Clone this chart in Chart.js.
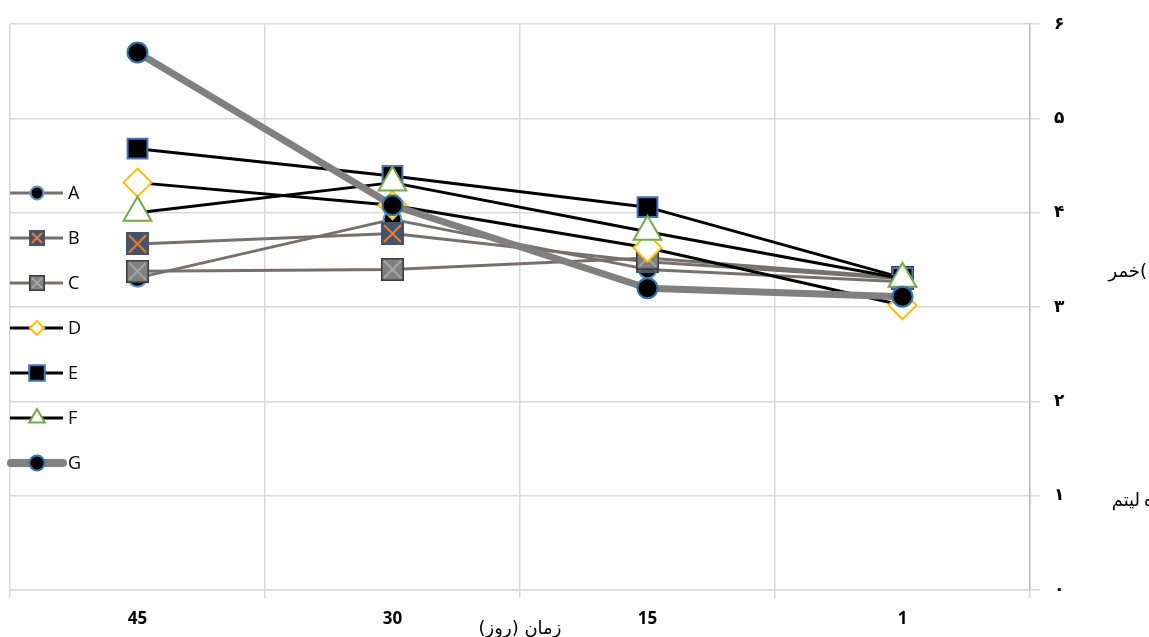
<!DOCTYPE html>
<html>
<head>
<meta charset="utf-8">
<script src="https://cdn.jsdelivr.net/npm/chart.js@4/dist/chart.umd.min.js"></script>
<style>html,body{margin:0;padding:0;background:#fff;}canvas{display:block;}</style>
</head>
<body>
<canvas id="c" width="1149" height="637"></canvas>
<script>
const categories = ['45', '30', '15', '1'];
const yTickLabels = ['۰', '۱', '۲', '۳', '۴', '۵', '۶'];
const seriesNames = ['A', 'B', 'C', 'D', 'E', 'F', 'G'];
const seriesA = [3.31, 3.93, 3.40, 3.27];
const seriesB = [3.67, 3.78, 3.48, 3.30];
const seriesC = [3.38, 3.40, 3.52, 3.31];
const seriesD = [4.32, 4.08, 3.63, 3.02];
const seriesE = [4.68, 4.39, 4.06, 3.31];
const seriesF = [4.00, 4.32, 3.80, 3.30];
const seriesG = [5.70, 4.08, 3.20, 3.11];
const xTitle = 'زمان (روز)';
const yTitleWord1 = 'خمر';
const yTitleWord2 = 'ليتم';

function squareX(size, fill, border, cross) {
  const c = document.createElement('canvas');
  c.width = size; c.height = size;
  const g = c.getContext('2d');
  g.fillStyle = fill;
  g.fillRect(0, 0, size, size);
  g.strokeStyle = border; g.lineWidth = 1.5;
  g.strokeRect(0.75, 0.75, size - 1.5, size - 1.5);
  g.strokeStyle = cross; g.lineWidth = 2;
  g.beginPath();
  g.moveTo(3, 3); g.lineTo(size - 3, size - 3);
  g.moveTo(size - 3, 3); g.lineTo(3, size - 3);
  g.stroke();
  return c;
}
const markB = squareX(23, '#44546a', '#44546a', '#ed7d31');
const markC = squareX(23, '#808080', '#3a3a3a', '#a6a6a6');
const markBs = squareX(16, '#44546a', '#44546a', '#ed7d31');
const markCs = squareX(16, '#808080', '#3a3a3a', '#a6a6a6');

const GRAY = '#767171';
const styles = [
  {data: seriesA, line: GRAY, lw: 3, ps: 'circle', r: 9, bg: '#000', bc: '#5b9bd5', bw: 2, lps: 'circle', lr: 6.5},
  {data: seriesB, line: GRAY, lw: 3, ps: markB, r: 12, bg: '#44546a', bc: '#44546a', bw: 0, lps: markBs, lr: 8},
  {data: seriesC, line: GRAY, lw: 3, ps: markC, r: 12, bg: '#808080', bc: '#3a3a3a', bw: 0, lps: markCs, lr: 8},
  {data: seriesD, line: '#000', lw: 3, ps: 'rectRot', r: 14, bg: '#fff', bc: '#ffc000', bw: 2, lps: 'rectRot', lr: 7},
  {data: seriesE, line: '#000', lw: 3, ps: 'rect', r: 14, bg: '#000', bc: '#4472c4', bw: 2, lps: 'rect', lr: 11},
  {data: seriesF, line: '#000', lw: 3, ps: 'triangle', r: 16, bg: '#fff', bc: '#70ad47', bw: 2, lps: 'triangle', lr: 9},
  {data: seriesG, line: '#808080', lw: 7, ps: 'circle', r: 10, bg: '#000', bc: '#2e75b6', bw: 2, lps: 'circle', lr: 7.5}
];

const datasets = styles.map((s, i) => ({
  label: seriesNames[i],
  data: s.data,
  borderColor: s.line,
  borderWidth: s.lw,
  pointStyle: s.ps,
  pointRadius: s.r,
  pointHoverRadius: s.r,
  pointBackgroundColor: s.bg,
  pointBorderColor: s.bc,
  pointBorderWidth: s.bw,
  tension: 0,
  fill: false,
  order: 6 - i,
  borderCapStyle: 'round',
  borderJoinStyle: 'round'
}));

const overlay = {
  id: 'overlay',
  afterDraw(chart) {
    const ctx = chart.ctx;
    ctx.save();
    // legend
    const y0 = 193, dy = 45;
    styles.forEach((s, i) => {
      const y = y0 + i * dy;
      ctx.strokeStyle = s.line;
      ctx.lineWidth = i === 6 ? 8 : 3;
      ctx.lineCap = i === 6 ? 'round' : 'butt';
      ctx.beginPath();
      ctx.moveTo(i === 6 ? 11 : 10, y);
      ctx.lineTo(63, y);
      ctx.stroke();
      ctx.fillStyle = s.bg;
      ctx.strokeStyle = s.bc;
      ctx.lineWidth = s.bw;
      Chart.helpers.drawPoint(ctx, {pointStyle: s.lps, radius: s.lr, rotation: 0, borderWidth: s.bw}, 37, y);
      ctx.fillStyle = '#000';
      ctx.font = '18px "Open Sans", sans-serif';
      ctx.textAlign = 'left';
      ctx.textBaseline = 'middle';
      ctx.direction = 'ltr';
      ctx.fillText(seriesNames[i], 68, y + 1);
    });
    // titles
    ctx.fillStyle = '#000';
    ctx.font = '18px "DejaVu Sans"';
    ctx.textBaseline = 'alphabetic';
    ctx.textAlign = 'center';
    ctx.fillText(xTitle, 520, 634);
    ctx.textAlign = 'right';
    ctx.fillText(yTitleWord1, 1140, 277);
    ctx.fillText(yTitleWord2, 1140, 506);
    ctx.textAlign = 'left';
    ctx.fillText('(', 1140, 277);
    ctx.fillText('\u0647', 1144, 506);
    ctx.restore();
  }
};

new Chart(document.getElementById('c'), {
  type: 'line',
  data: {labels: categories, datasets},
  options: {
    responsive: false,
    animation: false,
    events: [],
    layout: {autoPadding: false, padding: {top: 24, left: 10, right: 0, bottom: 0}},
    plugins: {legend: {display: false}, tooltip: {enabled: false}, title: {display: false}},
    scales: {
      x: {
        offset: true,
        grid: {offset: true, color: '#d9d9d9', lineWidth: 1.5, tickLength: 8, drawTicks: true},
        border: {color: '#d9d9d9', width: 1.5},
        ticks: {color: '#000', font: {family: '"Open Sans", sans-serif', size: 17, weight: 'bold'}, padding: 11, maxRotation: 0},
        afterFit(s) { s.height = 47; }
      },
      y: {
        position: 'right',
        min: 0, max: 6,
        grid: {color: '#d9d9d9', lineWidth: 1.5, tickLength: 10},
        border: {color: '#bfbfbf', width: 1.5},
        ticks: {
          stepSize: 1,
          color: '#000',
          padding: 14,
          font: {family: '"DejaVu Sans"', size: 17, weight: 'bold'},
          callback: (v) => yTickLabels[v]
        },
        afterFit(s) { s.width = 119; }
      }
    }
  },
  plugins: [overlay]
});
</script>
</body>
</html>
